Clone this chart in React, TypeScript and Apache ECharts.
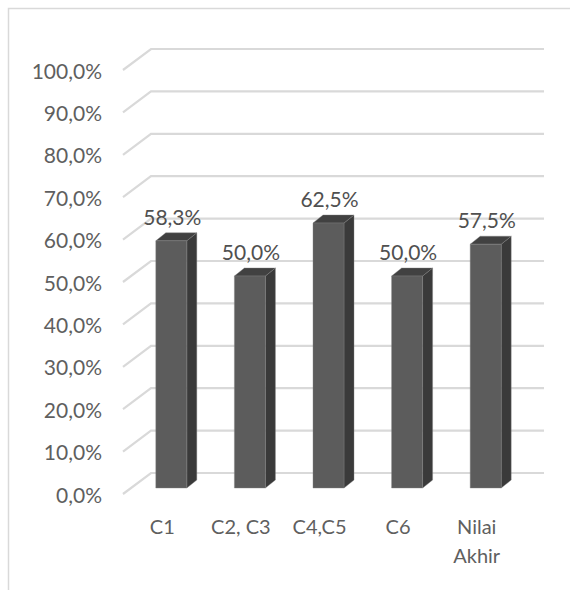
import React, { useEffect, useRef } from "react";
import * as echarts from "echarts";

const categories = ["C1", "C2, C3", "C4,C5", "C6", "Nilai\nAkhir"];
const scores = [58.3, 50.0, 62.5, 50.0, 57.5];
const gridValues = [0, 10, 20, 30, 40, 50, 60, 70, 80, 90, 100];

const FONT = "Lato";
const TEXT_COLOR = "#5f5f5f";
const percent = (v: number) => v.toFixed(1).replace(".", ",") + "%";

// Oblique depth of the chart box and of each column, in pixels.
const WALL_DX = 28;
const WALL_DY = 21;
const BAR_INSET_X = 9;
const BAR_INSET_Y = 6;
const BAR_WIDTH = 31;
const BAR_DX = 10;
const BAR_DY = 8;

function renderWallLine(params: any, api: any) {
  const sys = params.coordSys;
  const y = api.coord([0, api.value(1)])[1];
  return {
    type: "polyline",
    shape: {
      points: [
        [sys.x, y],
        [sys.x + WALL_DX, y - WALL_DY],
        [sys.x + sys.width + WALL_DX, y - WALL_DY],
      ],
    },
    style: { stroke: "#d9d9d9", lineWidth: 2.2, fill: "none" },
  };
}

function renderColumn(_params: any, api: any) {
  const value = api.value(1);
  const [cx, top] = api.coord([api.value(0), value]);
  const base = api.coord([api.value(0), 0])[1];
  const l = cx + BAR_INSET_X - BAR_WIDTH / 2;
  const r = l + BAR_WIDTH;
  const t = top - BAR_INSET_Y;
  const b = base - BAR_INSET_Y;
  const edge = { stroke: "#808080", lineWidth: 0.4 };
  return {
    type: "group",
    children: [
      {
        type: "polygon",
        shape: { points: [[r, t], [r + BAR_DX, t - BAR_DY], [r + BAR_DX, b - BAR_DY], [r, b]] },
        style: { fill: "#3a3a3a", ...edge },
      },
      {
        type: "polygon",
        shape: { points: [[l, t], [l + BAR_DX, t - BAR_DY], [r + BAR_DX, t - BAR_DY], [r, t]] },
        style: { fill: "#414141", ...edge },
      },
      {
        type: "rect",
        shape: { x: l, y: t, width: BAR_WIDTH, height: b - t },
        style: { fill: "#5c5c5c", ...edge },
      },
      {
        type: "text",
        x: cx + BAR_INSET_X + 1,
        y: t - BAR_DY - 6,
        style: {
          text: percent(value),
          fill: "#505050",
          font: `21px ${FONT}`,
          align: "center",
          verticalAlign: "bottom",
        },
      },
    ],
  };
}

export default function App() {
  const ref = useRef<HTMLDivElement>(null);

  useEffect(() => {
    const chart = echarts.init(ref.current!, undefined, { renderer: "svg" });
    chart.setOption({
      animation: false,
      backgroundColor: "#ffffff",
      grid: { left: 123, top: 70, width: 393, height: 424 },
      graphic: [
        {
          type: "polyline",
          shape: { points: [[8.5, 590], [8.5, 8.5], [570, 8.5]] },
          style: { stroke: "#d9d9d9", lineWidth: 1.5, fill: "none" },
        },
      ],
      xAxis: {
        type: "category",
        data: categories,
        axisLine: { show: false },
        axisTick: { show: false },
        axisLabel: {
          margin: 17,
          color: TEXT_COLOR,
          fontFamily: FONT,
          fontSize: 20,
          lineHeight: 29,
          interval: 0,
          verticalAlign: "top",
        },
      },
      yAxis: {
        type: "value",
        min: 0,
        max: 100,
        interval: 10,
        splitLine: { show: false },
        axisLine: { show: false },
        axisTick: { show: false },
        axisLabel: {
          margin: 21,
          color: TEXT_COLOR,
          fontFamily: FONT,
          fontSize: 21,
          padding: [5, 0, 0, 0],
          formatter: (v: number) => percent(v),
        },
      },
      series: [
        {
          type: "custom",
          silent: true,
          clip: false,
          z: 1,
          renderItem: renderWallLine,
          data: gridValues.map((v) => [0, v]),
        },
        {
          type: "custom",
          silent: true,
          clip: false,
          z: 2,
          renderItem: renderColumn,
          data: scores.map((v, i) => [i, v]),
        },
      ],
    });
    return () => chart.dispose();
  }, []);

  return <div ref={ref} style={{ position: "fixed", left: 0, top: 0, width: 570, height: 590 }} />;
}
